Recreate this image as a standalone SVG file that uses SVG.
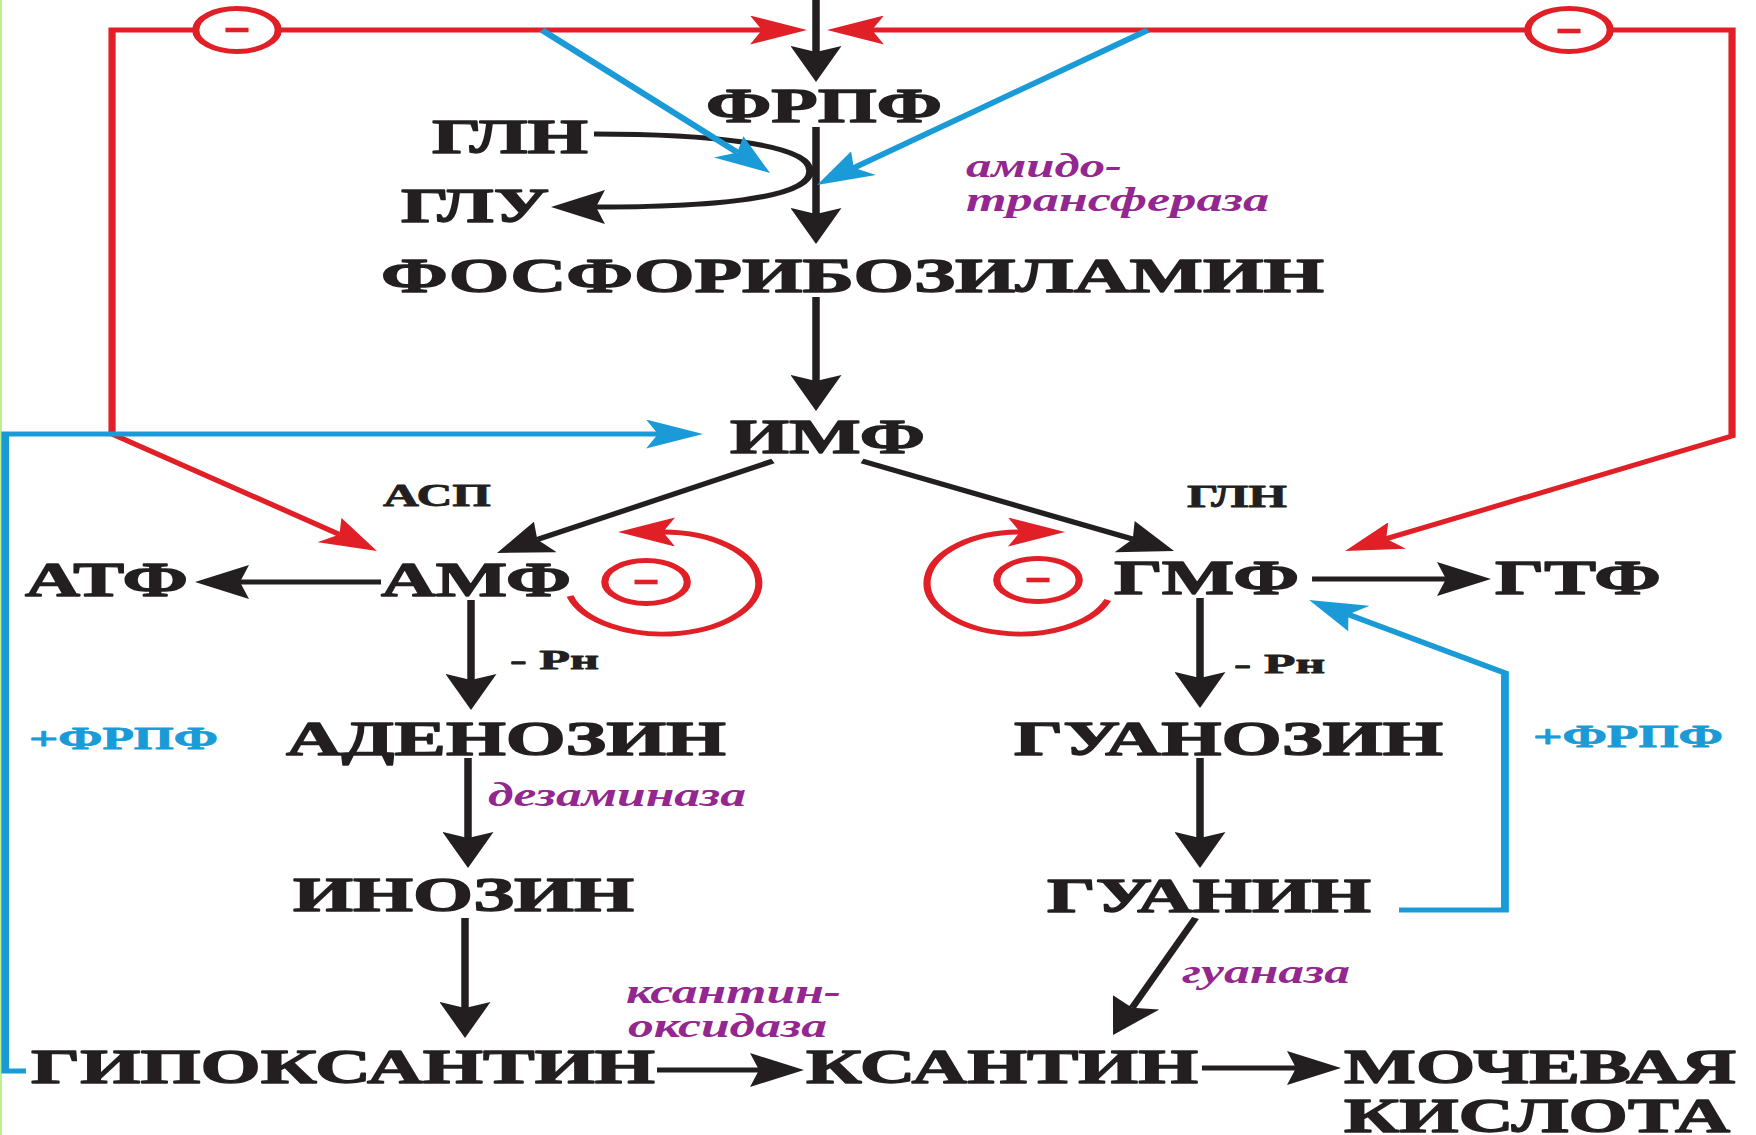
<svg xmlns="http://www.w3.org/2000/svg" width="1756" height="1135" viewBox="0 0 1756 1135">
  <style>
    .lbl{font-family:"Liberation Serif","Times New Roman",serif;font-weight:bold;fill:#231f20;stroke:#231f20;stroke-width:0.8;stroke-linejoin:round}
    .big{font-size:48px;stroke-width:1.3}
    .sm{font-size:31px}
    .pn{font-size:28px}
    .plus{font-size:31px;fill:#1a9bd7;stroke:#1a9bd7}
    .enz{font-family:"Liberation Serif","Times New Roman",serif;font-weight:bold;font-style:italic;font-size:34px;fill:#93278f}
    .k{fill:none;stroke:#231f20;stroke-width:5}
    .r{fill:none;stroke:#e11f26;stroke-width:4.8}
    .b{fill:none;stroke:#1a9bd7;stroke-width:5.2}
    .inh{fill:#fff;stroke:#e11f26;stroke-width:4.8}
    .minus{stroke:#e11f26;stroke-width:4.6}
  </style>
  <defs>
    <marker id="ah-k" viewBox="0 -17 36 34" refX="6" refY="0" markerWidth="36" markerHeight="34" markerUnits="userSpaceOnUse" orient="auto">
      <path d="M0,-17 L36,0 L0,17 L6,0 Z" fill="#231f20"/>
    </marker>
    <marker id="ah-r" viewBox="0 -14.5 38 29" refX="8" refY="0" markerWidth="38" markerHeight="29" markerUnits="userSpaceOnUse" orient="auto-start-reverse">
      <path d="M0,-14.5 L38,0 L0,14.5 L8,0 Z" fill="#e11f26"/>
    </marker>
    <marker id="ah-b" viewBox="0 -14.5 38 29" refX="8" refY="0" markerWidth="38" markerHeight="29" markerUnits="userSpaceOnUse" orient="auto">
      <path d="M0,-14.5 L38,0 L0,14.5 L8,0 Z" fill="#1a9bd7"/>
    </marker>
  </defs>

  <rect x="0" y="0" width="1756" height="1135" fill="#fff"/>
  <rect x="0" y="0" width="2" height="1135" fill="#b8f294"/>

  <!-- connectors are laid out on a grid stretched 1.5x horizontally -->
  <g id="connectors" transform="scale(1.5 1)">
    <!-- main pathway (black) -->
    <path class="k" d="M544,-5 V52" marker-end="url(#ah-k)"/>
    <path class="k" d="M544,127 V214" marker-end="url(#ah-k)"/>
    <path class="k" d="M544,297 V381" marker-end="url(#ah-k)"/>
    <path class="k" d="M515.3,461 L358.2,539.6" marker-end="url(#ah-k)"/>
    <path class="k" d="M574.7,461 L755.2,539.1" marker-end="url(#ah-k)"/>
    <path class="k" d="M254,582 H160" marker-end="url(#ah-k)"/>
    <path class="k" d="M874.7,579 H964" marker-end="url(#ah-k)"/>
    <path class="k" d="M314,600 V680" marker-end="url(#ah-k)"/>
    <path class="k" d="M800,598 V678" marker-end="url(#ah-k)"/>
    <path class="k" d="M312,758 V838" marker-end="url(#ah-k)"/>
    <path class="k" d="M800,758 V838" marker-end="url(#ah-k)"/>
    <path class="k" d="M310,918 V1008" marker-end="url(#ah-k)"/>
    <path class="k" d="M797,918 L754.8,1007.8" marker-end="url(#ah-k)"/>
    <path class="k" d="M438,1070 H506" marker-end="url(#ah-k)"/>
    <path class="k" d="M801.3,1068 H864" marker-end="url(#ah-k)"/>
    <!-- glutamine to glutamate loop -->
    <path class="k" d="M396,134 C468,134 540,143 540,171 C540,200 468,207 397.3,207" marker-end="url(#ah-k)"/>

    <!-- feedback inhibition (red) -->
    <path class="r" d="M508,30 H74.7 V434 L226.3,534.4" marker-start="url(#ah-r)" marker-end="url(#ah-r)"/>
    <path class="r" d="M581.3,30 H1154.7 V436 L924.1,538.8" marker-start="url(#ah-r)" marker-end="url(#ah-r)"/>
    <path class="r" d="M380,596 A64 51 0 1 0 442,532" marker-end="url(#ah-r)"/>
    <path class="r" d="M738.5,600 A62 51 0 1 1 680,532" marker-end="url(#ah-r)"/>

    <ellipse class="inh" cx="158" cy="30" rx="27.5" ry="21.5"/>
    <path class="minus" d="M150.3,30 H165.7"/>
    <ellipse class="inh" cx="1046" cy="30" rx="27.5" ry="21.5"/>
    <path class="minus" d="M1038.3,31 H1053.7"/>
    <ellipse class="inh" cx="430.7" cy="582" rx="27.5" ry="21.5"/>
    <path class="minus" d="M423,582 H438.4"/>
    <ellipse class="inh" cx="692" cy="580" rx="27.5" ry="21.5"/>
    <path class="minus" d="M684.3,580 H699.7"/>

    <!-- activation by PRPP (blue) -->
    <path class="b" d="M361.3,30 L491.5,152.4" marker-end="url(#ah-b)"/>
    <path class="b" d="M765.3,30 L569.2,167.8" marker-end="url(#ah-b)"/>
    <path class="b" d="M17.3,1071 H3.5 V434 H438.7" marker-end="url(#ah-b)"/>
    <path class="b" d="M932.7,910 H1003.3 V673 L898.9,614.6" marker-end="url(#ah-b)"/>
  </g>

  <!-- nodes -->
  <g id="n-prpp"><text class="lbl big" x="706" y="122" textLength="236" lengthAdjust="spacingAndGlyphs">ФРПФ</text></g>
  <g id="n-gln-top"><text class="lbl big" x="432" y="153" textLength="156" lengthAdjust="spacingAndGlyphs">ГЛН</text></g>
  <g id="n-glu"><text class="lbl big" x="401" y="222" textLength="148" lengthAdjust="spacingAndGlyphs">ГЛУ</text></g>
  <g id="n-amidotransferase">
    <text class="enz" x="966" y="177" textLength="156" lengthAdjust="spacingAndGlyphs">амидо-</text>
    <text class="enz" x="966" y="211" textLength="303" lengthAdjust="spacingAndGlyphs">трансфераза</text>
  </g>
  <g id="n-pra"><text class="lbl big" x="381" y="292" textLength="943" lengthAdjust="spacingAndGlyphs">ФОСФОРИБОЗИЛАМИН</text></g>
  <g id="n-imp"><text class="lbl big" x="730" y="453" textLength="195" lengthAdjust="spacingAndGlyphs">ИМФ</text></g>
  <g id="n-asp"><text class="lbl sm" x="383" y="506" textLength="108" lengthAdjust="spacingAndGlyphs">АСП</text></g>
  <g id="n-gln-right"><text class="lbl sm" x="1187" y="507" textLength="100" lengthAdjust="spacingAndGlyphs">ГЛН</text></g>
  <g id="n-atp"><text class="lbl big" x="25" y="596" textLength="163" lengthAdjust="spacingAndGlyphs">АТФ</text></g>
  <g id="n-amp"><text class="lbl big" x="381" y="596" textLength="190" lengthAdjust="spacingAndGlyphs">АМФ</text></g>
  <g id="n-gmp"><text class="lbl big" x="1114" y="594" textLength="185" lengthAdjust="spacingAndGlyphs">ГМФ</text></g>
  <g id="n-gtp"><text class="lbl big" x="1495" y="594" textLength="166" lengthAdjust="spacingAndGlyphs">ГТФ</text></g>
  <g id="n-pi-left"><text class="lbl pn" x="510" y="669" textLength="89" lengthAdjust="spacingAndGlyphs">- Рн</text></g>
  <g id="n-pi-right"><text class="lbl pn" x="1234" y="673" textLength="91" lengthAdjust="spacingAndGlyphs">- Рн</text></g>
  <g id="n-prpp-left"><text class="lbl plus" x="29" y="749" textLength="189" lengthAdjust="spacingAndGlyphs">+ФРПФ</text></g>
  <g id="n-prpp-right"><text class="lbl plus" x="1533" y="747" textLength="190" lengthAdjust="spacingAndGlyphs">+ФРПФ</text></g>
  <g id="n-adenosine"><text class="lbl big" x="286" y="755" textLength="440" lengthAdjust="spacingAndGlyphs">АДЕНОЗИН</text></g>
  <g id="n-guanosine"><text class="lbl big" x="1014" y="755" textLength="429" lengthAdjust="spacingAndGlyphs">ГУАНОЗИН</text></g>
  <g id="n-deaminase"><text class="enz" x="488" y="806" textLength="258" lengthAdjust="spacingAndGlyphs">дезаминаза</text></g>
  <g id="n-inosine"><text class="lbl big" x="293" y="911" textLength="341" lengthAdjust="spacingAndGlyphs">ИНОЗИН</text></g>
  <g id="n-guanine"><text class="lbl big" x="1047" y="912" textLength="324" lengthAdjust="spacingAndGlyphs">ГУАНИН</text></g>
  <g id="n-guanase"><text class="enz" x="1182" y="983" textLength="168" lengthAdjust="spacingAndGlyphs">гуаназа</text></g>
  <g id="n-xanthine-oxidase">
    <text class="enz" x="626" y="1003" textLength="215" lengthAdjust="spacingAndGlyphs">ксантин-</text>
    <text class="enz" x="628" y="1037" textLength="199" lengthAdjust="spacingAndGlyphs">оксидаза</text>
  </g>
  <g id="n-hypoxanthine"><text class="lbl big" x="31" y="1083" textLength="624" lengthAdjust="spacingAndGlyphs">ГИПОКСАНТИН</text></g>
  <g id="n-xanthine"><text class="lbl big" x="806" y="1083" textLength="392" lengthAdjust="spacingAndGlyphs">КСАНТИН</text></g>
  <g id="n-uric-acid">
    <text class="lbl big" x="1344" y="1083" textLength="392" lengthAdjust="spacingAndGlyphs">МОЧЕВАЯ</text>
    <text class="lbl big" x="1344" y="1132" textLength="386" lengthAdjust="spacingAndGlyphs">КИСЛОТА</text>
  </g>
</svg>
